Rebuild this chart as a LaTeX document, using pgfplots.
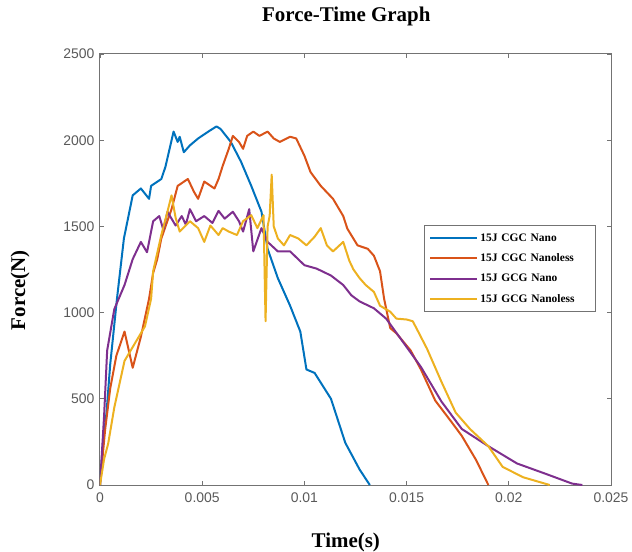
\documentclass[border=0pt]{standalone}
\usepackage{pgfplots}
\pgfplotsset{compat=1.18}
\usepackage{fontspec}
\setmainfont{Liberation Serif}
\newfontfamily\tickfont{Liberation Sans}
\definecolor{mblue}{rgb}{0,0.447,0.741}
\definecolor{morange}{rgb}{0.85,0.325,0.098}
\definecolor{myellow}{rgb}{0.929,0.694,0.125}
\definecolor{mpurple}{rgb}{0.494,0.184,0.556}
\begin{document}
\begin{tikzpicture}
\begin{axis}[
  scale only axis, width=511bp, height=431bp,
  xmin=0, xmax=0.025, ymin=0, ymax=2500,
  scaled x ticks=false, scaled y ticks=false,
  xtick={0,0.005,0.01,0.015,0.02,0.025},
  xticklabels={0,0.005,0.01,0.015,0.02,0.025},
  ytick={0,500,1000,1500,2000,2500},
  yticklabels={0,500,1000,1500,2000,2500},
  tick align=inside, major tick length=4bp,
  axis line style={black!55, line width=1bp},
  every tick/.style={black!55, line width=0.8bp},
  tick label style={font=\tickfont\fontsize{14}{14}\selectfont, text=black!65},
  yticklabel style={xshift=-2bp},
  xticklabel style={yshift=-4bp},
  /pgf/number format/assume math mode=true,
  title={Force-Time Graph},
  title style={font=\bfseries\fontsize{21}{21}\selectfont, at={(rel axis cs:0.482,1)}, anchor=center, yshift=32bp},
  xlabel={Time(s)},
  xlabel style={font=\bfseries\fontsize{21}{21}\selectfont, at={(axis description cs:0.481,-0.1323)}, anchor=center},
  ylabel={Force(N)},
  ylabel style={font=\bfseries\fontsize{21}{21}\selectfont, at={(axis description cs:-0.1566,0.452)}, anchor=center},
  legend style={at={(rel axis cs:0.634,0.603)}, anchor=north west, draw=black!55, line width=0.8bp,
    font=\bfseries\fontsize{11.5}{11.5}\selectfont, row sep=7bp, inner xsep=5bp, inner ysep=6bp,
    nodes={text width=108bp, align=left}},
  legend cell align=left,
  legend image code/.code={\draw[#1] (0bp,0bp) -- (47bp,0bp);},
]
\addplot[mblue, line width=2bp, line join=round] coordinates {
(0,0) (0.00015,250) (0.00032,420) (0.0005,700) (0.00083,1080) (0.00117,1430) (0.0016,1680) (0.002,1720) (0.0024,1660) (0.0025,1735) (0.003,1775) (0.0032,1845) (0.0036,2050) (0.0038,1990) (0.0039,2020) (0.0041,1930) (0.0044,1970) (0.0048,2010) (0.0053,2050) (0.0057,2080) (0.0059,2065) (0.0064,1990) (0.0069,1875) (0.0074,1735) (0.0079,1585) (0.0082,1370) (0.0087,1200) (0.0093,1040) (0.0098,890) (0.0101,670) (0.0105,650) (0.0113,500) (0.012,245) (0.0127,90) (0.0132,0)
};
\addlegendentry{15J CGC Nano}
\addplot[morange, line width=2bp, line join=round] coordinates {
(0,0) (0.00025,320) (0.0005,560) (0.0008,750) (0.0012,890) (0.0016,680) (0.002,860) (0.0024,1080) (0.0026,1230) (0.0028,1310) (0.003,1430) (0.0035,1600) (0.0038,1735) (0.0043,1775) (0.0046,1700) (0.0048,1660) (0.0051,1760) (0.0056,1720) (0.0058,1775) (0.006,1850) (0.0063,1950) (0.0065,2025) (0.0068,1990) (0.007,1950) (0.0072,2025) (0.0075,2050) (0.0078,2025) (0.0082,2050) (0.0085,2010) (0.0088,1990) (0.0093,2020) (0.0096,2010) (0.01,1910) (0.0103,1815) (0.0108,1735) (0.0114,1660) (0.0119,1560) (0.0121,1487) (0.0126,1390) (0.0131,1370) (0.0134,1330) (0.0137,1240) (0.0139,1080) (0.0142,910) (0.0145,880) (0.0152,780) (0.0157,670) (0.0164,490) (0.0172,365) (0.0177,285) (0.0184,145) (0.019,0)
};
\addlegendentry{15J CGC Nanoless}
\addplot[mpurple, line width=2bp, line join=round] coordinates {
(0,0) (0.0002,400) (0.00035,780) (0.0007,1020) (0.0012,1160) (0.0016,1310) (0.002,1410) (0.0023,1350) (0.0026,1530) (0.0029,1560) (0.0031,1480) (0.0033,1585) (0.0037,1505) (0.004,1560) (0.0042,1510) (0.0044,1600) (0.0047,1530) (0.0051,1560) (0.0055,1520) (0.0058,1590) (0.0061,1545) (0.0065,1585) (0.0068,1530) (0.007,1470) (0.0073,1600) (0.0075,1355) (0.0079,1490) (0.0082,1410) (0.0087,1355) (0.0093,1355) (0.01,1275) (0.0106,1255) (0.0113,1215) (0.0119,1160) (0.0123,1100) (0.0127,1065) (0.0134,1025) (0.014,965) (0.0147,850) (0.0157,685) (0.0167,485) (0.0177,325) (0.019,225) (0.0204,125) (0.0218,65) (0.0231,8) (0.0236,0)
};
\addlegendentry{15J GCG Nano}
\addplot[myellow, line width=2bp, line join=round] coordinates {
(0,0) (0.0002,150) (0.0004,240) (0.0007,450) (0.0012,720) (0.0016,800) (0.0022,920) (0.0025,1080) (0.0026,1240) (0.003,1450) (0.0033,1585) (0.0035,1680) (0.0037,1550) (0.0039,1470) (0.0044,1530) (0.0048,1490) (0.0051,1410) (0.0054,1505) (0.0058,1450) (0.006,1490) (0.0063,1470) (0.0067,1450) (0.007,1530) (0.0074,1565) (0.0077,1490) (0.008,1565) (0.0081,950) (0.0082,1500) (0.0083,1560) (0.0084,1800) (0.0085,1500) (0.0087,1430) (0.009,1390) (0.0093,1450) (0.0097,1430) (0.0101,1390) (0.0105,1440) (0.0108,1490) (0.0111,1390) (0.0114,1355) (0.0119,1410) (0.0122,1300) (0.0124,1250) (0.0127,1200) (0.013,1160) (0.0134,1120) (0.0137,1040) (0.0142,1005) (0.0145,965) (0.015,960) (0.0153,950) (0.0155,905) (0.016,790) (0.0167,600) (0.0174,420) (0.0181,325) (0.019,225) (0.0197,105) (0.0207,45) (0.022,0)
};
\addlegendentry{15J GCG Nanoless}
\end{axis}
\pgfresetboundingbox
\path (current axis.south west) ++(-100bp,-67bp) rectangle ++(632bp,552bp);
\end{tikzpicture}
\end{document}
